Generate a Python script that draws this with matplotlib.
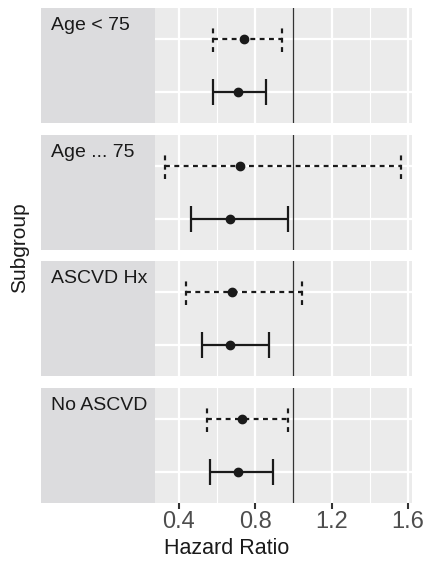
import matplotlib.pyplot as plt

plt.rcParams['font.family'] = ['Liberation Sans', 'DejaVu Sans']

groups = ['Age < 75', 'Age ... 75', 'ASCVD Hx', 'No ASCVD']
# dashed (top) row per facet
hr_dash = [0.742, 0.723, 0.681, 0.731]
lo_dash = [0.580, 0.327, 0.440, 0.550]
hi_dash = [0.941, 1.561, 1.047, 0.972]
# solid (bottom) row per facet
hr_solid = [0.709, 0.670, 0.670, 0.709]
lo_solid = [0.578, 0.463, 0.522, 0.562]
hi_solid = [0.859, 0.970, 0.872, 0.892]

xticks = [0.4, 0.8, 1.2, 1.6]
minor = [0.2, 0.6, 1.0, 1.4]

W, H = 427, 562
fig = plt.figure(figsize=(W / 100, H / 100), dpi=100)

left, right = 41, 412
tops = [8, 135, 261, 388]
ph = 115
dash = (0, (2.2, 2.0))
ink = '#1a1a1a'

for i, g in enumerate(groups):
    ax = fig.add_axes([left / W, 1 - (tops[i] + ph) / H, (right - left) / W, ph / H])
    ax.set_facecolor('#ebebeb')
    for s in ax.spines.values():
        s.set_visible(False)
    ax.set_xlim(-0.32, 1.62)
    ax.set_ylim(0.4, 2.6)
    for x in xticks:
        ax.axvline(x, color='white', lw=1.6, zorder=0)
    for x in minor:
        ax.axvline(x, color='white', lw=0.8, zorder=0)
    for y in [1, 2]:
        ax.axhline(y, color='white', lw=1.6, zorder=0)
    ax.axvspan(-0.32, 0.275, color='#dcdcde', lw=0, zorder=1)
    ax.axvline(1.0, color='#333333', lw=0.9, zorder=2)

    # dashed interval (top row)
    ax.plot([lo_dash[i], hi_dash[i]], [2, 2], color=ink, lw=1.6, ls=dash, zorder=3)
    for xe in [lo_dash[i], hi_dash[i]]:
        ax.plot([xe, xe], [1.75, 2.25], color=ink, lw=1.6, ls=dash, zorder=3)
    ax.plot([hr_dash[i]], [2], 'o', color=ink, ms=6, zorder=4)

    # solid interval (bottom row)
    ax.errorbar([hr_solid[i]], [1], xerr=[[hr_solid[i] - lo_solid[i]], [hi_solid[i] - hr_solid[i]]],
                fmt='o', color=ink, ms=6, capsize=9.5, elinewidth=1.6, capthick=1.6, zorder=3)

    ax.text(-0.27, 2.43, g, fontsize=14, color=ink, ha='left', va='top', zorder=4)

    ax.set_yticks([])
    ax.set_xticks(xticks)
    if i == len(groups) - 1:
        ax.set_xticklabels([f'{t:.1f}' for t in xticks], fontsize=17, color='#4d4d4d')
        ax.tick_params(axis='x', length=4, width=1.5, color='#333333', pad=2)
        ax.set_xlabel('Hazard Ratio', fontsize=15.5, color=ink, labelpad=3)
    else:
        ax.set_xticklabels([])
        ax.tick_params(axis='x', length=0)

fig.text(20 / W, 1 - 248 / H, 'Subgroup', rotation=90, fontsize=15, color=ink,
         ha='center', va='center')

fig.savefig('out.png', dpi=100)
